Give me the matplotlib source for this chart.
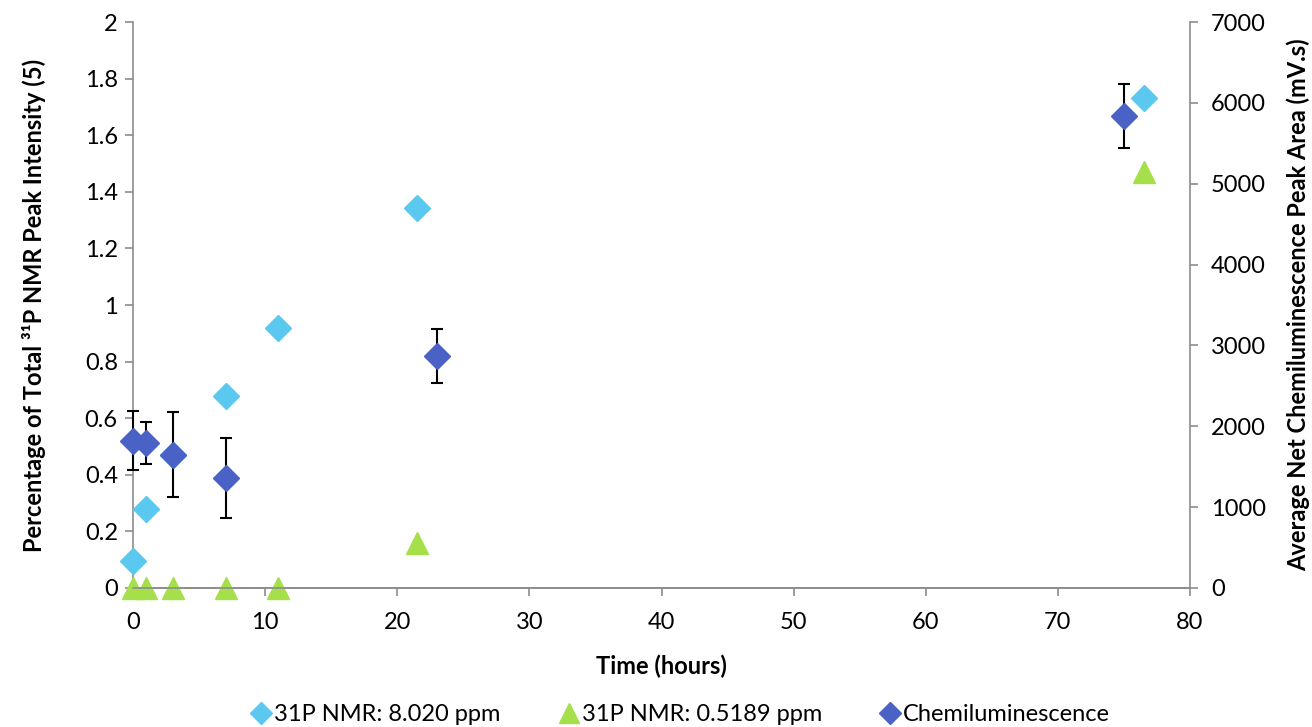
import matplotlib
matplotlib.use("Agg")
import matplotlib.pyplot as plt
from matplotlib.lines import Line2D

plt.rcParams['font.family'] = ['Lato', 'DejaVu Sans']

# 31P NMR peak at 8.020 ppm (left axis, %)
t_nmr_a = [0, 1, 3, 7, 11, 21.5, 76.5]
pct_nmr_a = [0.095, 0.28, 0.47, 0.68, 0.92, 1.343, 1.732]

# 31P NMR peak at 0.5189 ppm (left axis, %)
t_nmr_b = [0, 1, 3, 7, 11, 21.5, 76.5]
pct_nmr_b = [0, 0, 0, 0, 0, 0.16, 1.47]

# Chemiluminescence peak area (right axis, mV.s)
t_chem = [0, 1, 3, 7, 23, 75]
area_chem = [1820, 1790, 1650, 1360, 2870, 5835]
area_err = [365, 260, 525, 495, 335, 395]

x_ticks = list(range(0, 81, 10))
left_ticks = [0, 0.2, 0.4, 0.6, 0.8, 1, 1.2, 1.4, 1.6, 1.8, 2]
right_ticks = list(range(0, 7001, 1000))

c_light = '#5BC8F0'
c_green = '#A5E04A'
c_dark = '#4A62C5'
grey = '#8C8C8C'

fig = plt.figure(figsize=(13.12, 7.27), dpi=100)
ax = fig.add_axes([0.1014, 0.1912, 0.8056, 0.7785])
ax2 = ax.twinx()

ax.plot(t_nmr_a, pct_nmr_a, linestyle='none', marker='D', ms=13,
        color=c_light, mec=c_light, clip_on=False, zorder=3)
ax.plot(t_nmr_b, pct_nmr_b, linestyle='none', marker='^', ms=16,
        color=c_green, mec=c_green, clip_on=False, zorder=3)
ax2.errorbar(t_chem, area_chem, yerr=area_err, linestyle='none', marker='D',
             ms=13, color=c_dark, mec=c_dark, ecolor='black', elinewidth=1.5,
             capsize=4.5, capthick=1.5, clip_on=False, zorder=4)

ax.set_xlim(0, 80)
ax.set_ylim(0, 2)
ax2.set_ylim(0, 7000)
ax.set_xticks(x_ticks)
ax.set_yticks(left_ticks)
ax.set_yticklabels([f'{v:g}' for v in left_ticks])
ax2.set_yticks(right_ticks)

for a in (ax, ax2):
    for s in a.spines.values():
        s.set_color(grey)
        s.set_linewidth(1.2)
    a.spines['top'].set_visible(False)
    a.tick_params(axis='both', colors=grey, labelcolor='black',
                  labelsize=17, length=6, width=1.2, direction='out')
ax2.spines['left'].set_visible(False)
ax.spines['right'].set_visible(False)
ax.tick_params(axis='x', pad=11)
ax.tick_params(axis='y', pad=5)
ax2.tick_params(axis='y', pad=9)

ax.set_xlabel('Time (hours)', fontsize=17, fontweight='bold', labelpad=16)
ax.set_ylabel('Percentage of Total ³¹P NMR Peak Intensity (5)',
              fontsize=17, fontweight='bold', labelpad=28)
ax2.set_ylabel('Average Net Chemiluminescence Peak Area (mV.s)',
               fontsize=17, fontweight='bold', labelpad=15)

handles = [
    Line2D([], [], linestyle='none', marker='D', ms=11, color=c_light),
    Line2D([], [], linestyle='none', marker='^', ms=14, color=c_green),
    Line2D([], [], linestyle='none', marker='D', ms=11, color=c_dark),
]
labels = ['31P NMR: 8.020 ppm', '31P NMR: 0.5189 ppm', 'Chemiluminescence']
fig.legend(handles, labels, loc='center', bbox_to_anchor=(0.518, 0.017),
           ncol=3, frameon=False, fontsize=17, handletextpad=0.05,
           columnspacing=2.4, handlelength=1.0)

fig.savefig('out.png', dpi=100)
